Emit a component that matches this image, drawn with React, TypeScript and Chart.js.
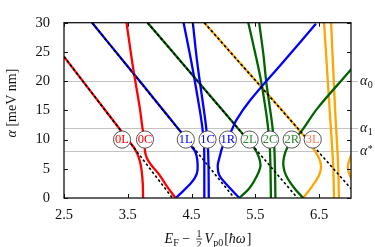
import React, { useEffect, useRef } from 'react';
import { Chart, registerables } from 'chart.js';

Chart.register(...registerables);

const SERIF = '"Liberation Serif", "Times New Roman", serif';

// axis ticks
const xTicks = [2.5, 3.5, 4.5, 5.5, 6.5];
const yTicks = [0, 5, 10, 15, 20, 25, 30];

// reference alpha levels (alpha_0, alpha_1, alpha*)
const refLevels = [20, 12, 8];
const refSubs = ['0', '1', '*'];

// dashed asymptotes: E values and alpha values
const dash0E = [2.5, 4.2];
const dash0A = [24.2, 0];
const dash1E = [2.94, 5.17];
const dash1A = [30, 0];
const dash2E = [3.81, 6.16];
const dash2A = [30, 0];
const dash3E = [4.7, 7.13];
const dash3A = [30, 0];

// n = 0 (red)
const red0LE = [2.5, 3.0, 3.36, 3.5, 3.58, 3.63, 3.67, 3.7, 3.72, 3.735, 3.74];
const red0LA = [24.2, 17.1, 12, 10, 8.9, 8.0, 7.0, 5.8, 4.4, 2.5, 0];
const red0CE = [3.48, 3.58, 3.69, 3.73, 3.76, 3.77, 3.8, 3.87, 4.0, 4.12, 4.25];
const red0CA = [30, 22.5, 15.3, 12, 10, 8, 6.8, 5.6, 3.9, 1.9, 0];

// n = 1 (blue)
const blue1LE = [2.94, 3.5, 4.0, 4.28, 4.43, 4.5, 4.555, 4.59, 4.59, 4.55, 4.47, 4.36, 4.25];
const blue1LA = [30, 22.5, 15.8, 12, 10, 8.8, 8.0, 6.5, 4.5, 3.4, 2.3, 1.1, 0];
const blue1CaE = [4.375, 4.5, 4.625, 4.67, 4.695, 4.7, 4.7];
const blue1CaA = [30, 23.1, 15.3, 12, 9, 6, 0];
const blue1CbE = [4.52, 4.59, 4.69, 4.73, 4.755, 4.765, 4.77];
const blue1CbA = [30, 23.1, 15.3, 12, 9, 6, 0];
const blue1RE = [6.45, 5.93, 5.41, 5.2, 5.12, 5.04, 4.98, 4.94, 4.91, 4.935, 5.05, 5.25];
const blue1RA = [29.8, 23.2, 16.6, 13.3, 11.4, 10, 8.6, 7, 5.5, 3.9, 2.3, 0];

// n = 2 (green)
const green2LE = [3.81, 4.4, 4.98, 5.22, 5.38, 5.48, 5.555, 5.58, 5.53, 5.41, 5.25];
const green2LA = [30, 22.5, 15.1, 12, 10, 8.6, 7, 5.5, 3.9, 1.7, 0];
const green2CaE = [5.39, 5.5, 5.59, 5.66, 5.7, 5.73, 5.745];
const green2CaA = [30, 24.7, 20, 15.3, 12, 8, 0];
const green2CbE = [5.56, 5.625, 5.67, 5.73, 5.77, 5.8, 5.815];
const green2CbA = [30, 24.7, 20, 15.3, 12, 8, 0];
const green2RE = [7.1, 7.0, 6.47, 6.22, 6.1, 6.0, 5.95, 5.94, 5.98, 6.11, 6.25];
const green2RA = [23.4, 22, 15.3, 11.4, 10, 8.6, 7, 5.5, 3.9, 1.7, 0];

// n = 3 (orange)
const orange3LE = [4.7, 5.3, 5.895, 6.17, 6.31, 6.4, 6.49, 6.53, 6.5, 6.39, 6.25];
const orange3LA = [30, 22.6, 15.3, 11.8, 10, 8.6, 7, 5.5, 3.9, 2, 0];
const orange3CaE = [6.578, 6.664, 6.719, 6.734];
const orange3CaA = [30, 15.3, 5.9, 0];
const orange3CbE = [6.688, 6.75, 6.797, 6.81];
const orange3CbA = [30, 15.3, 5.9, 0];
const orange3RE = [7.06, 6.98, 6.95, 6.98, 7.06];
const orange3RA = [8.6, 6.7, 5.3, 3.9, 2.0];

// circle labels
const labelNames = ['0L', '0C', '1L', '1C', '1R', '2L', '2C', '2R', '3L'];
const labelE = [3.41, 3.77, 4.41, 4.75, 5.07, 5.41, 5.73, 6.07, 6.4];
const labelAlpha = 10;

const RED = '#ff0000';
const BLUE = '#0000ff';
const GREEN = '#006400';
const ORANGE = '#ffa500';
const labelColors = [RED, RED, BLUE, BLUE, BLUE, '#2e8b2e', '#2e8b2e', '#2e8b2e', '#ff7f50'];

const pts = (E: number[], A: number[]) => E.map((e, i) => ({ x: e, y: A[i] }));

const curves: [number[], number[], string][] = [
  [red0LE, red0LA, RED],
  [red0CE, red0CA, RED],
  [blue1LE, blue1LA, BLUE],
  [blue1CaE, blue1CaA, BLUE],
  [blue1CbE, blue1CbA, BLUE],
  [blue1RE, blue1RA, BLUE],
  [green2LE, green2LA, GREEN],
  [green2CaE, green2CaA, GREEN],
  [green2CbE, green2CbA, GREEN],
  [green2RE, green2RA, GREEN],
  [orange3LE, orange3LA, ORANGE],
  [orange3CaE, orange3CaA, ORANGE],
  [orange3CbE, orange3CbA, ORANGE],
  [orange3RE, orange3RA, ORANGE],
];
const dashes: [number[], number[]][] = [
  [dash0E, dash0A],
  [dash1E, dash1A],
  [dash2E, dash2A],
  [dash3E, dash3A],
];

type Part = { t: string; font: string; dy: number; frac?: [string, string]; gap?: number };

function partWidth(ctx: CanvasRenderingContext2D, p: Part) {
  ctx.font = p.font;
  let w: number;
  if (p.frac) w = Math.max(ctx.measureText(p.frac[0]).width, ctx.measureText(p.frac[1]).width) + 2;
  else w = ctx.measureText(p.t).width;
  return w + (p.gap || 0);
}

function drawParts(ctx: CanvasRenderingContext2D, parts: Part[], cx: number, base: number) {
  const total = parts.reduce((s, p) => s + partWidth(ctx, p), 0);
  let x = cx - total / 2;
  ctx.textBaseline = 'alphabetic';
  ctx.textAlign = 'left';
  for (const p of parts) {
    const w = partWidth(ctx, p);
    ctx.font = p.font;
    if (p.frac) {
      const fw = w - (p.gap || 0);
      ctx.textAlign = 'center';
      ctx.fillText(p.frac[0], x + fw / 2, base - 5.8);
      ctx.fillText(p.frac[1], x + fw / 2, base + 4.8);
      ctx.fillRect(x + 0.5, base - 4.4, fw - 1, 0.8);
      ctx.textAlign = 'left';
    } else {
      ctx.fillText(p.t, x, base + p.dy);
    }
    x += w;
  }
}

const overlay = {
  id: 'overlay',
  beforeDatasetsDraw(chart: any) {
    const { ctx, chartArea: ca, scales } = chart;
    ctx.save();
    ctx.strokeStyle = '#c4c4c4';
    ctx.lineWidth = 1;
    refLevels.forEach((a) => {
      const y = Math.round(scales.y.getPixelForValue(a)) + 0.5;
      ctx.beginPath();
      ctx.moveTo(ca.left, y);
      ctx.lineTo(ca.right + 7, y);
      ctx.stroke();
    });
    ctx.restore();
  },
  afterDatasetsDraw(chart: any) {
    const { ctx, chartArea: ca, scales } = chart;
    ctx.save();
    // circle labels
    labelNames.forEach((name, i) => {
      const x = scales.x.getPixelForValue(labelE[i]);
      const y = scales.y.getPixelForValue(labelAlpha);
      ctx.beginPath();
      ctx.arc(x, y, 8.6, 0, Math.PI * 2);
      ctx.fillStyle = '#ffffff';
      ctx.fill();
      ctx.strokeStyle = '#444444';
      ctx.lineWidth = 0.9;
      ctx.stroke();
      ctx.fillStyle = labelColors[i];
      ctx.font = `12.5px ${SERIF}`;
      ctx.textAlign = 'center';
      ctx.textBaseline = 'middle';
      ctx.fillText(name, x, y + 0.5);
    });
    // frame
    ctx.strokeStyle = '#111111';
    ctx.lineWidth = 1.3;
    ctx.strokeRect(ca.left, ca.top, ca.right - ca.left, ca.bottom - ca.top);
    // inward ticks
    ctx.lineWidth = 1;
    const tl = 4;
    xTicks.forEach((v) => {
      const x = Math.round(scales.x.getPixelForValue(v)) + 0.5;
      ctx.beginPath();
      ctx.moveTo(x, ca.bottom);
      ctx.lineTo(x, ca.bottom - tl);
      ctx.moveTo(x, ca.top);
      ctx.lineTo(x, ca.top + tl);
      ctx.stroke();
    });
    yTicks.forEach((v) => {
      const y = Math.round(scales.y.getPixelForValue(v)) + 0.5;
      ctx.beginPath();
      ctx.moveTo(ca.left, y);
      ctx.lineTo(ca.left + tl, y);
      ctx.moveTo(ca.right, y);
      ctx.lineTo(ca.right - tl, y);
      ctx.stroke();
    });
    ctx.restore();
  },
  afterDraw(chart: any) {
    const { ctx, scales, chartArea: ca } = chart;
    ctx.save();
    ctx.fillStyle = '#111111';
    const it = `italic 14px ${SERIF}`;
    const rm = `14px ${SERIF}`;
    const sm = `10px ${SERIF}`;
    // x title
    drawParts(
      ctx,
      [
        { t: 'E', font: it, dy: 0 },
        { t: 'F', font: sm, dy: 3 },
        { t: ' \u2212 ', font: rm, dy: 0, gap: 2 },
        { t: '', font: `10px ${SERIF}`, dy: 0, frac: ['1', '2'], gap: 2 },
        { t: 'V', font: it, dy: 0 },
        { t: 'p0', font: sm, dy: 3, gap: 1 },
        { t: '[', font: rm, dy: 0 },
        { t: '\u0127\u03c9', font: it, dy: 0, gap: 1 },
        { t: ']', font: rm, dy: 0 },
      ],
      208,
      243
    );
    // y title
    ctx.save();
    ctx.translate(16, 103);
    ctx.rotate(-Math.PI / 2);
    drawParts(
      ctx,
      [
        { t: '\u03b1', font: it, dy: 0 },
        { t: ' [meV nm]', font: rm, dy: 0 },
      ],
      0,
      0
    );
    ctx.restore();
    // right labels
    refLevels.forEach((a, i) => {
      const y = scales.y.getPixelForValue(a);
      const x = ca.right + 9;
      ctx.font = it;
      ctx.textAlign = 'left';
      ctx.textBaseline = 'alphabetic';
      ctx.fillText('\u03b1', x, y + 4);
      const w = ctx.measureText('\u03b1').width;
      ctx.font = sm;
      if (refSubs[i] === '*') ctx.fillText('*', x + w + 0.5, y + 1);
      else ctx.fillText(refSubs[i], x + w + 0.5, y + 7);
    });
    ctx.restore();
  },
};

export default function App() {
  const ref = useRef<HTMLCanvasElement | null>(null);
  useEffect(() => {
    document.body.style.margin = '0';
    const canvas = ref.current;
    if (!canvas) return;
    const datasets: any[] = [];
    dashes.forEach(([E, A]) =>
      datasets.push({
        data: pts(E, A),
        showLine: true,
        borderColor: '#000000',
        borderWidth: 1.6,
        borderDash: [2.6, 2.4],
        pointRadius: 0,
        tension: 0,
        order: 0,
        clip: 0,
      })
    );
    curves.forEach(([E, A, c]) =>
      datasets.push({
        data: pts(E, A),
        showLine: true,
        borderColor: c,
        borderWidth: 2.3,
        pointRadius: 0,
        tension: 0.35,
        order: 1,
        clip: 0,
      })
    );
    const chart = new Chart(canvas, {
      type: 'scatter',
      data: { datasets },
      options: {
        animation: false,
        responsive: false,
        devicePixelRatio: 1,
        layout: { padding: { top: 6, right: 24, left: 0, bottom: 0 } },
        plugins: { legend: { display: false }, tooltip: { enabled: false } },
        scales: {
          x: {
            type: 'linear',
            min: 2.5,
            max: 7,
            grid: { display: false, drawTicks: false },
            border: { display: false },
            afterBuildTicks: (s: any) => {
              s.ticks = xTicks.map((v) => ({ value: v }));
            },
            afterFit: (s: any) => {
              s.height = 49;
            },
            ticks: {
              padding: 8,
              color: '#111111',
              font: { family: SERIF, size: 14.5 },
              callback: (v: any) => Number(v).toFixed(1),
            },
          },
          y: {
            type: 'linear',
            min: 0,
            max: 30,
            grid: { display: false, drawTicks: false },
            border: { display: false },
            afterBuildTicks: (s: any) => {
              s.ticks = yTicks.map((v) => ({ value: v }));
            },
            afterFit: (s: any) => {
              s.width = 64;
            },
            ticks: {
              padding: 14,
              color: '#111111',
              font: { family: SERIF, size: 14.5 },
              callback: (v: any) => String(v),
            },
          },
        },
      },
      plugins: [overlay],
    });
    return () => chart.destroy();
  }, []);
  return (
    <div style={{ position: 'absolute', left: 0, top: 0, width: 375, height: 247 }}>
      <canvas ref={ref} width={375} height={247} style={{ width: 375, height: 247, display: 'block' }} />
    </div>
  );
}
